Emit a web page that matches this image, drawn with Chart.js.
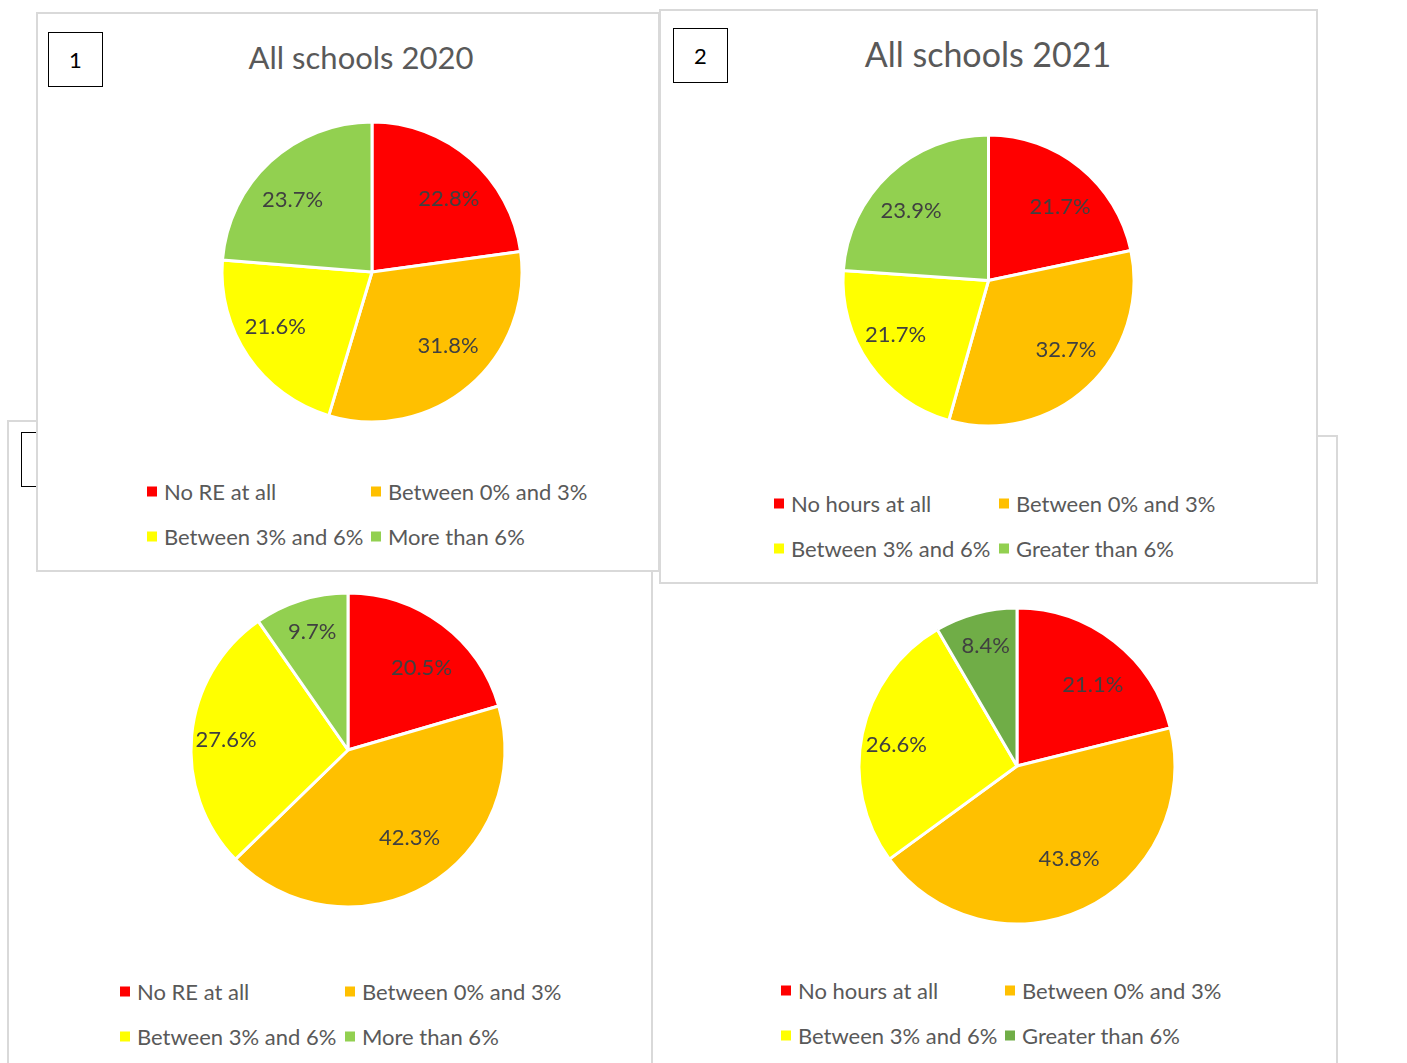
<!DOCTYPE html>
<html>
<head>
<meta charset="utf-8">
<script src="https://cdn.jsdelivr.net/npm/chart.js@4.4.1/dist/chart.umd.min.js"></script>
<style>
  body { margin: 0; width: 1407px; height: 1063px; overflow: hidden; background: #fff; position: relative; font-family: Lato, "Open Sans", sans-serif; }
  .panel { position: absolute; background: #fff; border: 2px solid #d9d9d9; box-sizing: border-box; }
  .num { position: absolute; width: 55px; height: 55px; border: 1px solid #000; box-sizing: border-box; font-size: 22px; color: #000; display: flex; align-items: center; justify-content: center; background: #fff; }
  .title { position: absolute; color: #595959; white-space: nowrap; transform: translate(-50%, -50%); }
  .leg { position: absolute; color: #595959; font-size: 22px; white-space: nowrap; transform: translateY(-50%); display: flex; align-items: center; }
  .leg span.sq { width: 10px; height: 10px; display: inline-block; margin-right: 7px; }
  canvas { position: absolute; }
</style>
</head>
<body>
<script>
// categories
const labelsRE = ["No RE at all", "Between 0% and 3%", "Between 3% and 6%", "More than 6%"];
const labelsHours = ["No hours at all", "Between 0% and 3%", "Between 3% and 6%", "Greater than 6%"];

// values (%)
const values2020 = [22.8, 31.8, 21.6, 23.7];
const values2021 = [21.7, 32.7, 21.7, 23.9];
const valuesBottomLeft = [20.5, 42.3, 27.6, 9.7];
const valuesBottomRight = [21.1, 43.8, 26.6, 8.4];

const colors = ["#ff0000", "#ffc000", "#ffff00", "#92d050"];
const colorsDarkGreen = ["#ff0000", "#ffc000", "#ffff00", "#70ad47"];

const BORDER = 2;

// panels are drawn back to front
const panels = [
  { box: [7, 420, 646, 700], num: [21, 432, "3"], title: null,
    labels: labelsRE, values: valuesBottomLeft, colors: colors,
    pie: [347.5, 750, 157], legX: [120, 345], legY: [991, 1036] },
  { box: [651, 435, 687, 700], num: null, title: null,
    labels: labelsHours, values: valuesBottomRight, colors: colorsDarkGreen,
    pie: [1017, 766, 158], legX: [781, 1005], legY: [990, 1035] },
  { box: [36, 12, 624, 560], num: [48, 32, "1"], title: ["All schools 2020", 361, 57, 31],
    labels: labelsRE, values: values2020, colors: colors,
    pie: [371.5, 271.5, 150], legX: [147, 371], legY: [491, 536] },
  { box: [659, 9, 659, 575], num: [673, 28, "2"], title: ["All schools 2021", 988, 53, 34],
    labels: labelsHours, values: values2021, colors: colors,
    pie: [988, 280, 145.5], legX: [774, 999], legY: [503, 548] }
];

// percentage labels inside slices, placed like Excel's best fit
const pctLabels = {
  id: "pctLabels",
  afterDatasetsDraw(chart) {
    const ctx = chart.ctx;
    const meta = chart.getDatasetMeta(0);
    const data = chart.data.datasets[0].data;
    ctx.save();
    ctx.font = "22px Lato, 'Open Sans', sans-serif";
    ctx.fillStyle = "#404040";
    ctx.textAlign = "center";
    ctx.textBaseline = "middle";
    meta.data.forEach((arc, i) => {
      const p = arc.getProps(["x", "y", "startAngle", "endAngle", "outerRadius"], true);
      const mid = (p.startAngle + p.endAngle) / 2;
      const small = data[i] < 12;
      const fx = small ? 0.76 : 0.78;
      const fy = small ? 0.79 : 0.65;
      ctx.fillText(data[i].toFixed(1) + "%",
        p.x + Math.cos(mid) * p.outerRadius * fx,
        p.y + Math.sin(mid) * p.outerRadius * fy);
    });
    ctx.restore();
  }
};

panels.forEach((pn) => {
  const [bx, by, bw, bh] = pn.box;
  const ox = bx + BORDER, oy = by + BORDER;
  const div = document.createElement("div");
  div.className = "panel";
  div.style.left = bx + "px";
  div.style.top = by + "px";
  div.style.width = bw + "px";
  div.style.height = bh + "px";
  document.body.appendChild(div);

  if (pn.num) {
    const n = document.createElement("div");
    n.className = "num";
    n.style.left = (pn.num[0] - ox) + "px";
    n.style.top = (pn.num[1] - oy) + "px";
    n.textContent = pn.num[2];
    div.appendChild(n);
  }

  if (pn.title) {
    const t = document.createElement("div");
    t.className = "title";
    t.textContent = pn.title[0];
    t.style.left = (pn.title[1] - ox) + "px";
    t.style.top = (pn.title[2] - oy) + "px";
    t.style.fontSize = pn.title[3] + "px";
    div.appendChild(t);
  }

  const [cx, cy, r] = pn.pie;
  const size = Math.ceil(2 * r + 12);
  const canvas = document.createElement("canvas");
  canvas.width = size;
  canvas.height = size;
  canvas.style.width = size + "px";
  canvas.style.height = size + "px";
  canvas.style.left = (cx - size / 2 - ox) + "px";
  canvas.style.top = (cy - size / 2 - oy) + "px";
  div.appendChild(canvas);

  new Chart(canvas.getContext("2d"), {
    type: "pie",
    data: {
      labels: pn.labels,
      datasets: [{
        data: pn.values,
        backgroundColor: pn.colors,
        borderColor: "#ffffff",
        borderWidth: 3,
        hoverOffset: 0
      }]
    },
    options: {
      responsive: false,
      animation: false,
      radius: r,
      layout: { padding: 0 },
      plugins: { legend: { display: false }, tooltip: { enabled: false } }
    },
    plugins: [pctLabels]
  });

  pn.labels.forEach((lab, i) => {
    const item = document.createElement("div");
    item.className = "leg";
    item.style.left = (pn.legX[i % 2] - ox) + "px";
    item.style.top = (pn.legY[Math.floor(i / 2)] - oy) + "px";
    item.innerHTML = `<span class="sq" style="background:${pn.colors[i]}"></span>${lab}`;
    div.appendChild(item);
  });
});
</script>
</body>
</html>
